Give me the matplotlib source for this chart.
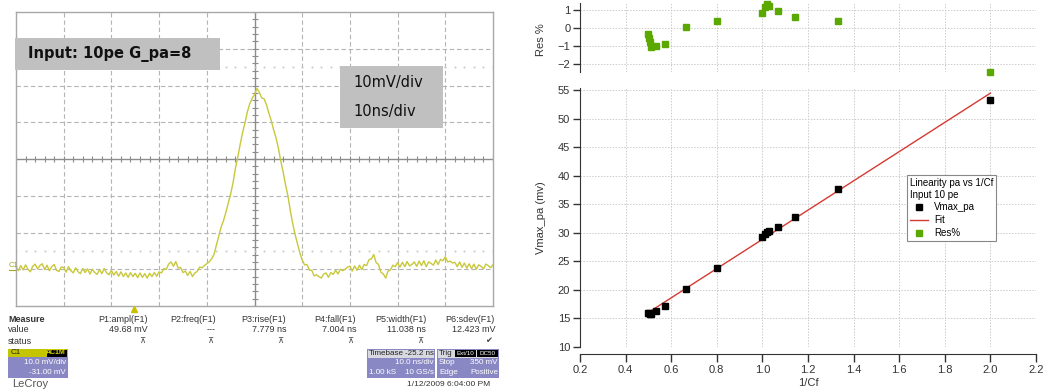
"""
Scope capture of the 10 pe pulse (left) and the Vmax_pa vs 1/Cf
linearity plot with residuals (right).
"""
import numpy as np
import matplotlib
matplotlib.use('Agg')
import matplotlib.pyplot as plt
from matplotlib.patches import Rectangle
from matplotlib.lines import Line2D

plt.rcParams['font.family'] = ['Liberation Sans', 'DejaVu Sans']

# ---- scope trace (ns, mV relative to screen centre)
t_start, t_stop, t_step = -50.0, 50.0, 0.5
trace_mv = [
    -29.3, -30.4, -29.0, -30.2, -28.8, -30.0, -30.7, -29.2, -28.6, -29.9,
    -29.0, -28.5, -30.1, -28.9, -30.4, -29.3, -28.7, -30.3, -30.6, -29.4,
    -29.5, -30.8, -29.3, -30.4, -31.0, -29.6, -30.7, -31.2, -29.8, -30.9,
    -29.9, -31.3, -30.0, -30.9, -31.4, -30.1, -31.2, -29.8, -31.0, -31.5,
    -30.3, -31.6, -30.6, -31.9, -30.7, -32.0, -31.0, -32.2, -30.9, -32.0,
    -31.1, -32.3, -31.0, -32.2, -31.2, -32.4, -31.1, -32.0, -30.9, -31.9,
    -30.7, -31.0, -29.8, -30.0, -28.6, -28.0, -29.2, -27.9, -29.7, -29.5,
    -30.9, -30.5, -31.7, -30.6, -32.0, -31.0, -30.6, -29.4, -29.6, -29.0,
    -28.5, -28.0, -27.2, -26.0, -23.5, -21.0, -18.5, -16.8, -14.5, -12.0,
    -9.5, -6.5, -2.5, 0.5, 4.0, 7.2, 9.8, 12.8, 15.0, 16.5,
    17.5, 19.2, 18.2, 16.6, 16.4, 14.8, 12.5, 10.5, 8.0, 5.8,
    3.0, -0.5, -3.5, -7.0, -10.0, -14.0, -17.5, -20.5, -23.0, -25.5,
    -27.5, -28.8, -28.7, -30.2, -30.3, -31.8, -31.5, -32.0, -32.4, -31.3,
    -31.0, -32.2, -30.9, -31.4, -30.3, -31.3, -30.0, -30.4, -30.0, -29.4,
    -29.2, -30.5, -29.1, -30.3, -28.9, -30.1, -28.7, -29.0, -27.4, -27.2,
    -26.0, -28.2, -28.7, -30.8, -31.3, -32.4, -30.5, -30.2, -28.9, -29.3,
    -28.2, -29.4, -28.1, -29.3, -27.9, -29.1, -28.7, -28.0, -29.2, -27.8,
    -29.0, -27.7, -29.3, -28.0, -28.4, -28.9, -27.5, -28.7, -27.3, -27.7,
    -26.6, -28.0, -27.8, -28.3, -28.1, -29.3, -28.0, -29.5, -28.3, -29.7,
    -28.5, -29.8, -28.6, -30.0, -28.8, -29.2, -29.9, -28.6, -29.0, -29.6,
    -28.8,
]

meas_names = ['P1:ampl(F1)', 'P2:freq(F1)', 'P3:rise(F1)', 'P4:fall(F1)',
              'P5:width(F1)', 'P6:sdev(F1)']
meas_values = ['49.68 mV', '---', '7.779 ns', '7.004 ns', '11.038 ns',
               '12.423 mV']

# ---- linearity data
inv_cf = [0.500, 0.502, 0.505, 0.510, 0.532, 0.571, 0.667, 0.800, 1.000,
          1.010, 1.020, 1.030, 1.067, 1.143, 1.333, 2.000]
vmax_pa = [15.95, 15.90, 15.85, 15.80, 16.30, 17.25, 20.20, 23.87, 29.25,
           29.80, 30.10, 30.30, 31.00, 32.80, 37.60, 53.20]
res_pct = [-0.35, -0.57, -0.76, -1.04, -0.98, -0.91, 0.04, 0.37, 0.85,
           1.15, 1.33, 1.24, 0.96, 0.63, 0.41, -2.46]
fit_x = [0.5, 2.0]
fit_y = [16.05, 54.45]

W, H = 1060, 389


def rect(x0, y0, x1, y1):
    """axes rectangle from pixel corners (top-left origin)"""
    return [x0 / W, 1 - y1 / H, (x1 - x0) / W, (y1 - y0) / H]


fig = plt.figure(figsize=(W / 100, H / 100), dpi=100)

# ---------------- scope screen
ax_s = fig.add_axes(rect(16, 12, 493, 306))
ax_s.set_xlim(-50, 50)
ax_s.set_ylim(-40, 40)
ax_s.set_xticks([])
ax_s.set_yticks([])
for sp in ax_s.spines.values():
    sp.set_color('#a8a8a8')
    sp.set_linewidth(1.0)

for gx in range(-40, 50, 10):
    if gx != 0:
        ax_s.axvline(gx, color='#b4b4b4', lw=0.8, ls=(0, (4, 2.5)))
for gy in range(-30, 40, 10):
    if gy != 0:
        ax_s.axhline(gy, color='#b4b4b4', lw=0.8, ls=(0, (4, 2.5)))
ax_s.axvline(0, color='#8c8c8c', lw=1.0)
ax_s.axhline(0, color='#8c8c8c', lw=1.0)
tick_t = np.arange(-50, 50.1, 2)
tick_v = np.arange(-40, 40.1, 2)
ax_s.plot(tick_t, np.zeros_like(tick_t), ls='none', marker='|', ms=5,
          mew=0.8, color='#8c8c8c')
ax_s.plot(np.zeros_like(tick_v), tick_v, ls='none', marker='_', ms=5,
          mew=0.8, color='#8c8c8c')
for dv in (-25, 25):
    ax_s.plot(tick_t, np.full_like(tick_t, dv), ls='none', marker='.',
              ms=1.0, color='#c8c8c8')

t = t_start + t_step * np.arange(len(trace_mv))
ax_s.plot(t, trace_mv, color='#c8c83a', lw=1.0, clip_on=False)

# ---------------- right: residuals on top, Vmax_pa below
ax_r = fig.add_axes(rect(580, 3, 1036, 72))
ax_m = fig.add_axes(rect(580, 88, 1036, 347))

ax_m.plot(fit_x, fit_y, color='#d43a32', lw=1.0, zorder=3)
ax_m.plot(inv_cf, vmax_pa, ls='none', marker='s', ms=5, color='black',
          zorder=4, clip_on=False)
ax_r.plot(inv_cf, res_pct, ls='none', marker='s', ms=5, color='#5aa800',
          zorder=4, clip_on=False)

ax_m.set_xlim(0.2, 2.2)
ax_m.set_ylim(10, 55.35)
ax_r.set_xlim(0.2, 2.2)
ax_r.set_ylim(-2.44, 1.39)

ax_m.set_xticks(np.arange(0.2, 2.21, 0.2))
ax_m.set_xticklabels(['%.1f' % v for v in np.arange(0.2, 2.21, 0.2)])
ax_m.set_yticks(range(10, 56, 5))
ax_r.set_xticks(np.arange(0.2, 2.21, 0.2))
ax_r.set_yticks([-2, -1, 0, 1])

for ax in (ax_m, ax_r):
    ax.grid(True, color='#cccccc', lw=0.7, ls=(0, (1.5, 1.5)))
    ax.set_axisbelow(True)
    ax.spines['top'].set_visible(False)
    ax.spines['right'].set_visible(False)
    ax.spines['left'].set_color('#333333')
    ax.tick_params(colors='#333333', labelsize=8, width=1, length=5)
    ax.tick_params(axis='y', pad=2)
ax_m.spines['bottom'].set_position(('outward', 5))
ax_m.spines['bottom'].set_color('#333333')
ax_m.tick_params(axis='x', length=6, pad=2)
ax_r.spines['bottom'].set_visible(False)
ax_r.tick_params(axis='x', length=0, labelbottom=False)

handles = [Line2D([], [], ls='none', marker='s', ms=4.5, color='black'),
           Line2D([], [], color='#d43a32', lw=1.0),
           Line2D([], [], ls='none', marker='s', ms=4.5, color='#5aa800')]
leg = ax_m.legend(handles, ['Vmax_pa', 'Fit', 'Res%'],
                  title='Linearity pa vs 1/Cf\nInput 10 pe',
                  loc='upper left', bbox_to_anchor=(907 / W, 1 - 175 / H),
                  bbox_transform=fig.transFigure, alignment='left',
                  fancybox=False, edgecolor='#888888', framealpha=1,
                  fontsize=7, title_fontsize=7, handlelength=1.9,
                  borderpad=0.3, labelspacing=0.3, handletextpad=0.6,
                  borderaxespad=0)
leg.get_frame().set_linewidth(0.8)

# ---------------- overlay in pixel coordinates for boxes and labels
ov = fig.add_axes([0, 0, 1, 1])
ov.set_xlim(0, W)
ov.set_ylim(H, 0)
ov.axis('off')
ov.patch.set_alpha(0)

ov.add_patch(Rectangle((15, 38), 205, 32, color='#c0c0c0', lw=0))
ov.text(28, 54, 'Input: 10pe G_pa=8', fontsize=10.5, fontweight='bold',
        family='DejaVu Sans', va='center', color='#111111')
ov.add_patch(Rectangle((340, 66), 103, 62, color='#c0c0c0', lw=0))
ov.text(353, 82, '10mV/div', fontsize=10.5, family='DejaVu Sans',
        va='center', color='#111111')
ov.text(353, 111, '10ns/div', fontsize=10.5, family='DejaVu Sans',
        va='center', color='#111111')
ov.text(9, 269, 'C1', fontsize=5.5, color='#a8a820', va='bottom')
ov.plot([9, 15], [270, 270], color='#a8a820', lw=0.8)
ov.plot([134], [309], marker='^', ms=4, color='#c8c000')

txt = dict(fontsize=6.5, color='#333333', va='center')
ov.text(8, 319, 'Measure', fontweight='bold', **txt)
ov.text(8, 330, 'value', **txt)
ov.text(8, 341, 'status', **txt)
col_right = [148, 216, 286, 356, 426, 495]
for xr, name, val in zip(col_right, meas_names, meas_values):
    ov.text(xr, 319, name, ha='right', **txt)
    ov.text(xr, 330, val, ha='right', **txt)
    mark = '\u2714' if name.startswith('P6') else '\u22bc'
    ov.text(xr - 3, 341, mark, ha='right', fontsize=6, color='#444444',
            va='center', family=['DejaVu Sans'])

purple = '#8a88c4'
box = dict(fontsize=5.8, va='center')
# channel box
ov.add_patch(Rectangle((8, 349), 60, 29, color=purple, lw=0))
ov.add_patch(Rectangle((8, 349), 60, 8, color='#c4c400', lw=0))
ov.add_patch(Rectangle((47, 350), 20, 6.5, color='black', lw=0))
ov.text(11, 353, 'C1', color='#222222', **box)
ov.text(66, 353, 'AC1M', ha='right', color='#d8d800', fontsize=5,
        va='center', fontweight='bold')
ov.text(66, 363, '10.0 mV/div', ha='right', color='white', **box)
ov.text(66, 373, '-31.00 mV', ha='right', color='white', **box)
# timebase box
ov.add_patch(Rectangle((367, 349), 68, 29, color=purple, lw=0))
ov.add_patch(Rectangle((368, 350), 66, 7.5, color='#d8d8e0', lw=0))
ov.text(369, 353.5, 'Timebase', color='#222222', **box)
ov.text(434, 353.5, '-25.2 ns', ha='right', color='#222222', **box)
ov.text(434, 363, '10.0 ns/div', ha='right', color='white', **box)
ov.text(369, 373, '1.00 kS', color='white', **box)
ov.text(434, 373, '10 GS/s', ha='right', color='white', **box)
# trigger box
ov.add_patch(Rectangle((437, 349), 62, 29, color=purple, lw=0))
ov.add_patch(Rectangle((438, 350), 60, 7.5, color='#d8d8e0', lw=0))
ov.add_patch(Rectangle((455, 350), 21, 7, color='black', lw=0))
ov.add_patch(Rectangle((477, 350), 21, 7, color='black', lw=0))
ov.text(439, 353.5, 'Trig', color='#222222', **box)
ov.text(465.5, 353.5, 'Ext/10', ha='center', color='white', fontsize=4.5,
        va='center')
ov.text(487.5, 353.5, 'DC50', ha='center', color='white', fontsize=4.5,
        va='center')
ov.text(439, 363, 'Stop', color='white', **box)
ov.text(498, 363, '350 mV', ha='right', color='white', **box)
ov.text(439, 373, 'Edge', color='white', **box)
ov.text(498, 373, 'Positive', ha='right', color='white', **box)

ov.text(12, 384, 'LeCroy', fontsize=8, color='#555555', va='center')
ov.text(490, 384, '1/12/2009 6:04:00 PM', fontsize=6, color='#333333',
        va='center', ha='right')

# axis titles of the right plot
ov.text(541, 218, 'Vmax_pa (mv)', rotation=90, fontsize=8,
        color='#333333', ha='center', va='center')
ov.text(541, 40, 'Res %', rotation=90, fontsize=8, color='#333333',
        ha='center', va='center')
ov.text(808, 383, '1/Cf', fontsize=8, color='#333333', ha='center',
        va='center')

fig.savefig('out.png', dpi=100)
